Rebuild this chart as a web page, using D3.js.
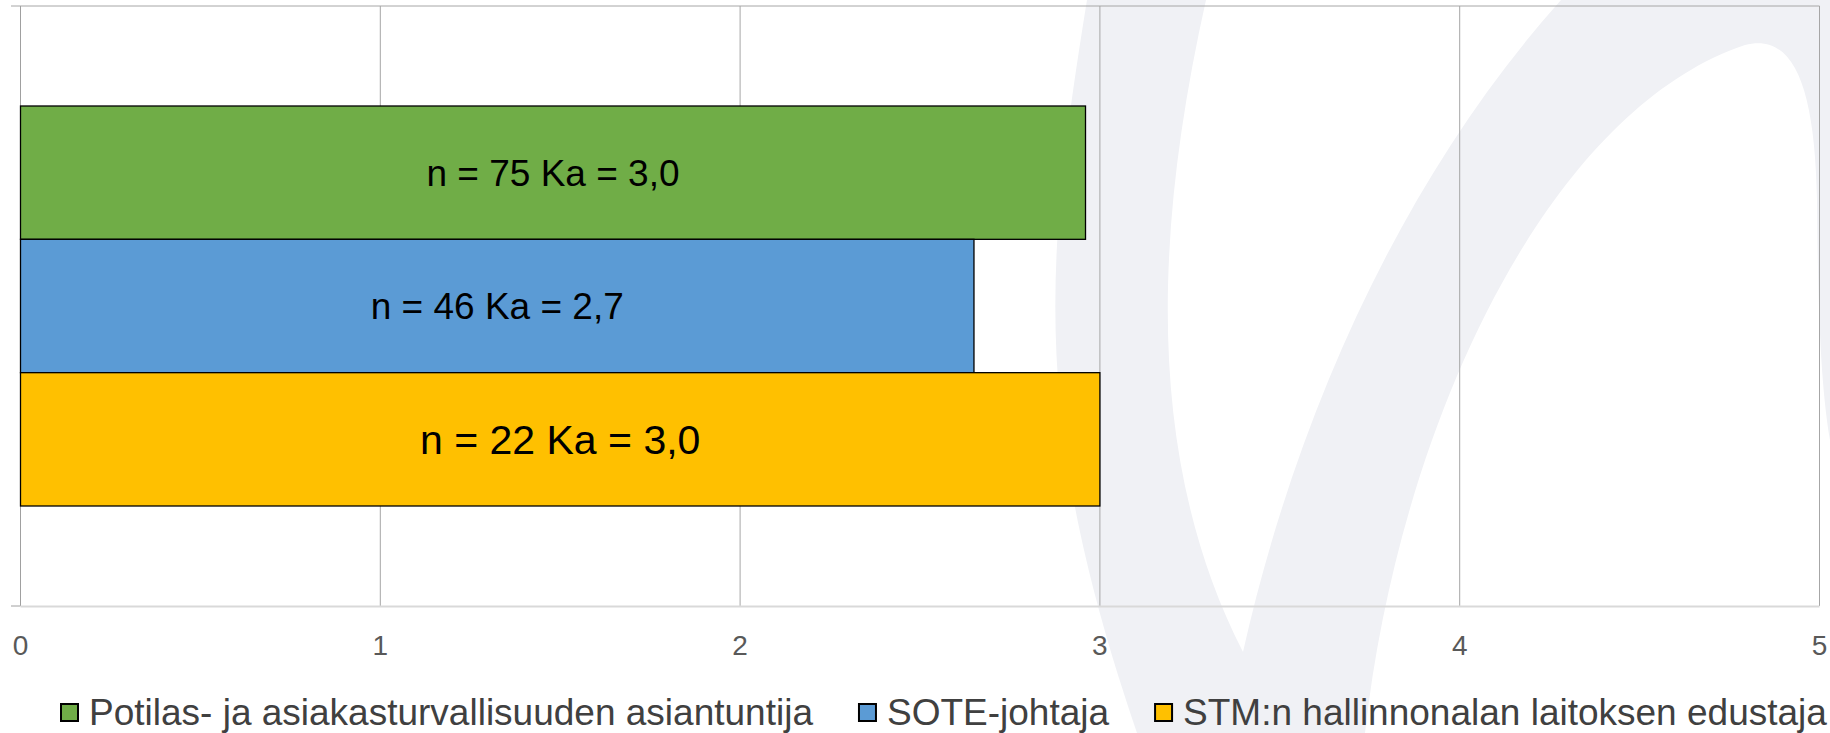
<!DOCTYPE html>
<html>
<head>
<meta charset="utf-8">
<script src="https://cdn.jsdelivr.net/npm/d3@7"></script>
<style>
  body { margin: 0; background: #fff; }
  svg { display: block; font-family: "Liberation Sans", Arial, sans-serif; }
</style>
</head>
<body>
<div id="chart"></div>
<script>
// data
var seriesNames = ["Potilas- ja asiakasturvallisuuden asiantuntija", "SOTE-johtaja", "STM:n hallinnonalan laitoksen edustaja"];
var seriesValues = [2.96, 2.65, 3.0];
var seriesN = [75, 46, 22];
var seriesMeans = ["3,0", "2,7", "3,0"];
var tickValues = [0, 1, 2, 3, 4, 5];

var colors = ["#70ad47", "#5b9bd5", "#ffc000"];
var labelSizes = [37, 37, 41];

var W = 1830, H = 733;
var plot = {left: 20.5, right: 1819.5, top: 6, bottom: 606};

var svg = d3.select("#chart")
  .append("svg")
    .attr("width", W)
    .attr("height", H);

// light watermark behind the chart
var wm = svg.append("g");
wm.append("path")
  .attr("d", "M1087,0 C1045,260 1030,420 1137,733 L1830,733 L1830,0 Z")
  .style("fill", "#f0f1f5");
wm.append("path")
  .attr("d", "M1206,0 C1150,250 1150,470 1243,652 C1295,420 1400,180 1561,0 Z")
  .style("fill", "#fff");
wm.append("path")
  .attr("d", "M1365,733 C1400,420 1550,110 1745,45 C1795,32 1815,90 1817,200 C1818,300 1820,380 1830,440 L1830,733 Z")
  .style("fill", "#fff");

var x = d3.scaleLinear()
  .domain([0, 5])
  .range([plot.left, plot.right]);

var y = d3.scaleBand()
  .domain(seriesNames)
  .range([plot.top, plot.bottom])
  .paddingInner(0)
  .paddingOuter(0.75);

// vertical gridlines
svg.selectAll("line.grid")
  .data(tickValues.slice(1))
  .enter()
  .append("line")
    .attr("class", "grid")
    .attr("x1", d => x(d)).attr("x2", d => x(d))
    .attr("y1", plot.top).attr("y2", plot.bottom)
    .style("stroke", "#a6a6a6")
    .style("stroke-width", 1);

// top border line
svg.append("line")
  .attr("x1", 11).attr("x2", plot.right)
  .attr("y1", plot.top).attr("y2", plot.top)
  .style("stroke", "#a6a6a6");

// category axis
svg.append("line")
  .attr("x1", plot.left).attr("x2", plot.left)
  .attr("y1", plot.top).attr("y2", plot.bottom)
  .style("stroke", "#a0a0a0");
svg.append("line")
  .attr("x1", 11).attr("x2", plot.left)
  .attr("y1", plot.bottom).attr("y2", plot.bottom)
  .style("stroke", "#a0a0a0");

// value axis line
svg.append("line")
  .attr("x1", plot.left).attr("x2", plot.right)
  .attr("y1", plot.bottom + 0.5).attr("y2", plot.bottom + 0.5)
  .style("stroke", "#d9d9d9")
  .style("stroke-width", 2);

// tick labels
svg.selectAll("text.tick")
  .data(tickValues)
  .enter()
  .append("text")
    .attr("class", "tick")
    .attr("x", d => x(d))
    .attr("y", 655)
    .attr("text-anchor", "middle")
    .style("font-size", "28px")
    .style("fill", "#595959")
    .text(d => d);

// bars
svg.selectAll("rect.bar")
  .data(seriesNames)
  .enter()
  .append("rect")
    .attr("class", "bar")
    .attr("x", x(0))
    .attr("y", d => y(d))
    .attr("width", (d, i) => x(seriesValues[i]) - x(0))
    .attr("height", y.bandwidth())
    .style("fill", (d, i) => colors[i])
    .style("stroke", "#000")
    .style("stroke-width", 1.3);

// bar labels
svg.selectAll("text.label")
  .data(seriesNames)
  .enter()
  .append("text")
    .attr("class", "label")
    .attr("x", (d, i) => (x(0) + x(seriesValues[i])) / 2)
    .attr("y", d => y(d) + y.bandwidth() / 2)
    .attr("dy", "0.36em")
    .attr("text-anchor", "middle")
    .style("font-size", (d, i) => labelSizes[i] + "px")
    .style("fill", "#000")
    .text((d, i) => "n = " + seriesN[i] + " Ka = " + seriesMeans[i]);

// legend
var legend = svg.append("g");
var lx = 60;
seriesNames.forEach(function(name, i) {
  legend.append("rect")
    .attr("x", lx + 1).attr("y", 704)
    .attr("width", 17).attr("height", 17)
    .style("fill", colors[i])
    .style("stroke", "#000")
    .style("stroke-width", 2);
  var t = legend.append("text")
    .attr("x", lx + 29)
    .attr("y", 725)
    .style("font-size", "37px")
    .style("fill", "#404040")
    .text(name);
  lx += 29 + t.node().getComputedTextLength() + 45;
});
</script>
</body>
</html>
